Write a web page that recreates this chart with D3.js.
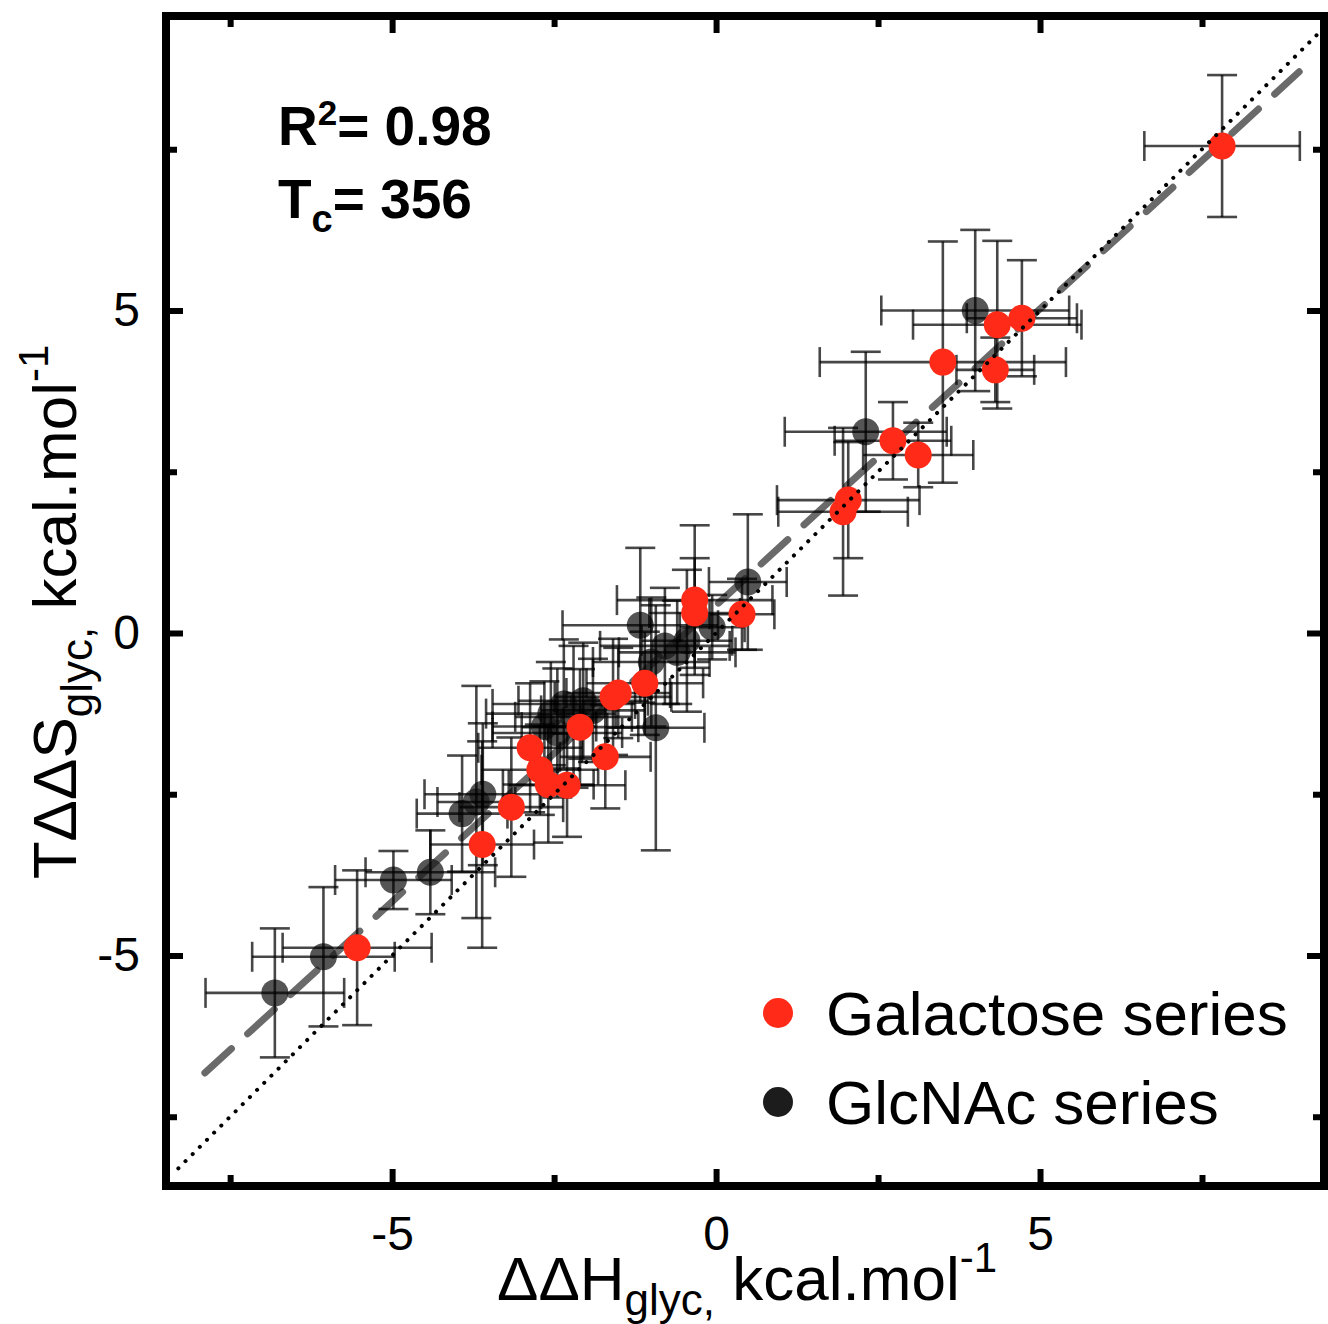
<!DOCTYPE html>
<html>
<head>
<meta charset="utf-8">
<script src="https://cdn.jsdelivr.net/npm/d3@7"></script>
<style>
  html, body { margin: 0; padding: 0; background: #fff; }
  svg { display: block; }
  text { font-family: "Liberation Sans", Arial, Helvetica, sans-serif; fill: #000; }
</style>
</head>
<body>
<svg id="chart" width="1328" height="1324"></svg>
<script>
// ---------------- data ----------------
// Galactose series
const galX    = [7.81, 4.72, 4.34, 4.31, 3.50, 2.73, 3.12, 2.04, 1.96, 0.40, -0.33, -0.33, -1.10, -1.51, -1.59, -2.10, -1.71, -2.87, -2.72, -2.59, -2.30, -3.16, -3.61, -5.54];
const galY    = [7.55, 4.88, 4.78, 4.08, 4.20, 2.98, 2.76, 2.06, 1.88, 0.29, 0.51, 0.31, -0.78, -0.93, -0.99, -1.46, -1.92, -1.78, -2.12, -2.35, -2.36, -2.70, -3.28, -4.88];
const galXerr = [1.20, 0.85, 1.30, 0.60, 1.90, 0.90, 0.85, 1.10, 1.00, 0.50, 1.20, 0.70, 0.90, 0.80, 0.90, 0.90, 0.70, 0.80, 0.90, 0.70, 0.90, 0.80, 0.80, 1.15];
const galYerr = [1.10, 0.90, 1.30, 0.50, 1.87, 0.60, 0.50, 0.90, 1.30, 0.55, 1.16, 0.85, 0.80, 0.70, 0.90, 0.90, 0.80, 1.00, 0.70, 0.90, 0.80, 1.08, 1.60, 1.20];
// GlcNAc series
const glcX    = [4.00, 2.31, 0.49, -0.06, -1.17, -0.79, -0.60, -0.45, -0.93, -2.55, -2.35, -2.20, -2.65, -2.05, -1.90, -2.45, -3.60, -3.92, -3.70, -4.41, -4.98, -6.06, -6.81, -1.00];
const glcY    = [5.00, 3.12, 0.79, 0.09, 0.12, -0.20, -0.30, -0.12, -1.47, -1.25, -1.10, -1.30, -1.45, -1.05, -1.20, -1.55, -2.50, -2.80, -2.62, -3.71, -3.83, -5.02, -5.58, -0.45];
const glcXerr = [1.45, 1.25, 0.60, 0.50, 1.20, 1.00, 0.90, 0.70, 0.75, 1.00, 1.10, 0.90, 0.80, 1.00, 0.80, 1.00, 0.90, 0.70, 0.60, 1.00, 0.90, 1.10, 1.07, 0.90];
const glcYerr = [1.25, 1.24, 1.05, 0.50, 1.20, 0.90, 0.80, 1.10, 1.90, 0.80, 1.00, 1.10, 0.70, 0.90, 0.80, 1.00, 1.10, 0.90, 1.80, 0.65, 0.45, 1.08, 1.00, 1.00];
// linear fit and identity line
const fitSlope = 0.919, fitIntercept = 0.43, fitRange = [-7.89, 9.0];
const idRange = [-8.3, 9.4];
// ticks
const majorTicks = [-5, 0, 5];
const minorTicks = [-7.5, -2.5, 2.5, 7.5];
const seriesNames = ["Galactose series", "GlcNAc series"];
const seriesColors = ["#ff2a17", "#1c1c1c"];

// ---------------- layout ----------------
const svg = d3.select("#chart");
const L = 166, R = 1324, T = 16, B = 1186;
const x = d3.scaleLinear().domain([-8.49, 9.383]).range([L, R]);
const y = d3.scaleLinear().domain([-8.574, 9.566]).range([B, T]);

svg.append("defs").append("clipPath").attr("id", "clip")
  .append("rect").attr("x", L).attr("y", T).attr("width", R - L).attr("height", B - T);

const plot = svg.append("g").attr("clip-path", "url(#clip)");

// fit line (dashed grey)
plot.append("line")
  .attr("x1", x(fitRange[0])).attr("y1", y(fitSlope * fitRange[0] + fitIntercept))
  .attr("x2", x(fitRange[1])).attr("y2", y(fitSlope * fitRange[1] + fitIntercept))
  .attr("stroke", "#6a6a6a").attr("stroke-width", 7)
  .attr("stroke-linecap", "round").attr("stroke-dasharray", "36 22");

const gal = galX.map((v, i) => ({x: v, y: galY[i], xe: galXerr[i], ye: galYerr[i]}));
const glc = glcX.map((v, i) => ({x: v, y: glcY[i], xe: glcXerr[i], ye: glcYerr[i]}));

// GlcNAc markers
plot.append("g").selectAll("circle").data(glc).join("circle")
  .attr("cx", d => x(d.x)).attr("cy", d => y(d.y)).attr("r", 13.5)
  .attr("fill", seriesColors[1]).attr("opacity", 0.75);

// error bars
const cap = 15;
function errorBars(data) {
  const g = plot.append("g").attr("stroke", "#000").attr("stroke-width", 2.6).attr("stroke-opacity", 0.72);
  data.forEach(d => {
    const cx = x(d.x), cy = y(d.y);
    const x0 = x(d.x - d.xe), x1 = x(d.x + d.xe);
    const y0 = y(d.y - d.ye), y1 = y(d.y + d.ye);
    g.append("line").attr("x1", x0).attr("x2", x1).attr("y1", cy).attr("y2", cy);
    g.append("line").attr("x1", x0).attr("x2", x0).attr("y1", cy - cap).attr("y2", cy + cap);
    g.append("line").attr("x1", x1).attr("x2", x1).attr("y1", cy - cap).attr("y2", cy + cap);
    g.append("line").attr("x1", cx).attr("x2", cx).attr("y1", y0).attr("y2", y1);
    g.append("line").attr("x1", cx - cap).attr("x2", cx + cap).attr("y1", y0).attr("y2", y0);
    g.append("line").attr("x1", cx - cap).attr("x2", cx + cap).attr("y1", y1).attr("y2", y1);
  });
}
errorBars(glc);
errorBars(gal);

// Galactose markers
plot.append("g").selectAll("circle").data(gal).join("circle")
  .attr("cx", d => x(d.x)).attr("cy", d => y(d.y)).attr("r", 13.5)
  .attr("fill", seriesColors[0]);

// identity line (dotted)
plot.append("line")
  .attr("x1", x(idRange[0])).attr("y1", y(idRange[0]))
  .attr("x2", x(idRange[1])).attr("y2", y(idRange[1]))
  .attr("stroke", "#000").attr("stroke-width", 4)
  .attr("stroke-linecap", "round").attr("stroke-dasharray", "0.1 10");

// ---------------- axes ----------------
function styleAxis(g) {
  g.select(".domain").remove();
  g.selectAll(".tick line").attr("stroke", "#000").attr("stroke-width", 6);
  g.selectAll("text").style("font-size", "48px").style("font-family", "'Liberation Sans', Arial, sans-serif");
}
const fmt = d => d < 0 ? "-" + Math.abs(d) : String(d);

svg.append("g").attr("transform", `translate(0,${B})`)
  .call(d3.axisBottom(x).tickValues(majorTicks).tickSize(-17).tickPadding(30).tickFormat(fmt)).call(styleAxis);
svg.append("g").attr("transform", `translate(0,${B})`)
  .call(d3.axisBottom(x).tickValues(minorTicks).tickSize(-11).tickFormat("")).call(styleAxis);
svg.append("g").attr("transform", `translate(0,${T})`)
  .call(d3.axisTop(x).tickValues(majorTicks).tickSize(-17).tickFormat("")).call(styleAxis);
svg.append("g").attr("transform", `translate(0,${T})`)
  .call(d3.axisTop(x).tickValues(minorTicks).tickSize(-11).tickFormat("")).call(styleAxis);
svg.append("g").attr("transform", `translate(${L},0)`)
  .call(d3.axisLeft(y).tickValues(majorTicks).tickSize(-17).tickPadding(26).tickFormat(fmt)).call(styleAxis);
svg.append("g").attr("transform", `translate(${L},0)`)
  .call(d3.axisLeft(y).tickValues(minorTicks).tickSize(-11).tickFormat("")).call(styleAxis);
svg.append("g").attr("transform", `translate(${R},0)`)
  .call(d3.axisRight(y).tickValues(majorTicks).tickSize(-17).tickFormat("")).call(styleAxis);
svg.append("g").attr("transform", `translate(${R},0)`)
  .call(d3.axisRight(y).tickValues(minorTicks).tickSize(-11).tickFormat("")).call(styleAxis);

// frame
svg.append("rect").attr("x", L).attr("y", T).attr("width", R - L).attr("height", B - T)
  .attr("fill", "none").attr("stroke", "#000").attr("stroke-width", 8);

// ---------------- titles ----------------
const xt = svg.append("text").attr("x", 747).attr("y", 1300).attr("text-anchor", "middle").style("font-size", "62px");
xt.append("tspan").text("ΔΔH");
xt.append("tspan").attr("dy", 15).style("font-size", "44px").text("glyc,");
xt.append("tspan").attr("dy", -15).text(" kcal.mol");
xt.append("tspan").attr("dy", -28).style("font-size", "42px").text("-1");

const yt = svg.append("text").attr("transform", "translate(76,612) rotate(-90)").attr("text-anchor", "middle").style("font-size", "62px");
yt.append("tspan").text("TΔΔS");
yt.append("tspan").attr("dy", 16).style("font-size", "44px").text("glyc,");
yt.append("tspan").attr("dy", -16).text(" kcal.mol");
yt.append("tspan").attr("dy", -28).style("font-size", "42px").text("-1");

// annotation
const a1 = svg.append("text").attr("x", 278).attr("y", 145).style("font-size", "55px").style("font-weight", "bold");
a1.append("tspan").text("R");
a1.append("tspan").attr("dy", -20).style("font-size", "35px").text("2");
a1.append("tspan").attr("dy", 20).text("= 0.98");
const a2 = svg.append("text").attr("x", 278).attr("y", 218).style("font-size", "55px").style("font-weight", "bold");
a2.append("tspan").text("T");
a2.append("tspan").attr("dy", 14).style("font-size", "38px").text("c");
a2.append("tspan").attr("dy", -14).text("= 356");

// legend
const leg = svg.append("g");
seriesNames.forEach((name, i) => {
  const cy = 1013 + i * 89;
  leg.append("circle").attr("cx", 778).attr("cy", cy).attr("r", 15).attr("fill", seriesColors[i]);
  leg.append("text").attr("x", 826).attr("y", cy + 22).style("font-size", "62px").text(name);
});
</script>
</body>
</html>
